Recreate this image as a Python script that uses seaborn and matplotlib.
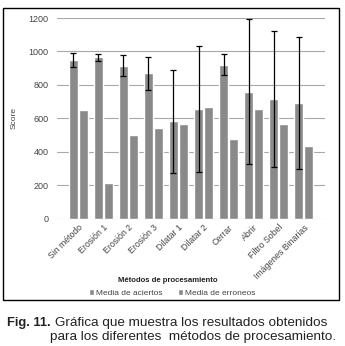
import numpy as np
import pandas as pd
import matplotlib
matplotlib.use("Agg")
import matplotlib.pyplot as plt
from matplotlib.patches import Rectangle
import seaborn as sns

# datos
metodos = ["Sin método", "Erosión 1", "Erosión 2", "Erosión 3", "Dilatar 1",
           "Dilatar 2", "Cerrar", "Abrir", "Filtro Sobel", "Imágenes Binarias"]
media_aciertos = [950, 965, 915, 870, 582, 655, 920, 760, 715, 690]
media_erroneos = [650, 215, 500, 540, 565, 665, 475, 655, 565, 435]
desv_aciertos = [40, 20, 62, 98, 310, 375, 62, 435, 405, 395]
series = ["Media de aciertos", "Media de erroneos"]

df = pd.DataFrame({
    "metodo": metodos * 2,
    "valor": media_aciertos + media_erroneos,
    "serie": [series[0]] * len(metodos) + [series[1]] * len(metodos),
})

sns.set_style("white")
plt.rcParams["font.family"] = ["Liberation Sans", "DejaVu Sans"]

fig = plt.figure(figsize=(3.45, 3.46), dpi=100)
ax = fig.add_axes([57 / 345, 1 - 218.7 / 346, (325 - 57) / 345, (218.7 - 18) / 346])

gris = "#8a8a8a"
sns.barplot(data=df, x="metodo", y="valor", hue="serie", palette=[gris, gris],
            width=0.8, gap=0.15, saturation=1, ax=ax, legend=True)

# barras de error sobre la media de aciertos
cont = ax.containers[0]
xs = [p.get_x() + p.get_width() / 2 for p in cont]
ax.errorbar(xs, media_aciertos, yerr=desv_aciertos, fmt="none", ecolor="black",
            elinewidth=0.9, capsize=2.5, capthick=0.9)

ax.set_ylim(0, 1200)
ax.set_yticks(range(0, 1201, 200))
ax.yaxis.grid(True, color="#a8a8a8", linewidth=0.8)
ax.set_axisbelow(True)
for s in ax.spines.values():
    s.set_visible(False)
ax.tick_params(axis="y", length=0, colors="#444444", labelsize=6.5, pad=6)
ax.tick_params(axis="x", length=0, colors="#444444", labelsize=6.3, pad=3)
plt.setp(ax.get_xticklabels(), rotation=45, ha="right", rotation_mode="anchor")
ax.set_xlabel("")
ax.set_ylabel("Score", fontsize=6, color="#444444", labelpad=8)

fig.text(168 / 345, 1 - 280 / 346, "Métodos de procesamiento", fontsize=5.6,
         fontweight="bold", color="#222222", ha="center", va="center")

ax.get_legend().remove()
handles, labels = ax.get_legend_handles_labels()
leg = fig.legend(handles, labels, loc="center", bbox_to_anchor=(172 / 345, 1 - 293 / 346),
                 ncol=2, frameon=False, fontsize=6, handlelength=0.6, handleheight=0.6,
                 columnspacing=1.8, handletextpad=0.3)
for t in leg.get_texts():
    t.set_color("#444444")

# marco del grafico
fig.patches.append(Rectangle((3 / 345, 1 - 300 / 346), 336 / 345, 292 / 346,
                             transform=fig.transFigure, fill=False,
                             edgecolor="black", linewidth=1.0))

# pie de figura
fig.text(7 / 345, 1 - 323 / 346, "Fig. 11.", fontsize=9.3, fontweight="bold",
         va="center", ha="left", color="#222222")
fig.text(55 / 345, 1 - 323 / 346, "Gráfica que muestra los resultados obtenidos",
         fontsize=9.7, va="center", ha="left", color="#222222")
fig.text(50 / 345, 1 - 337 / 346, "para los diferentes  métodos de procesamiento.",
         fontsize=9.7, va="center", ha="left", color="#222222")

fig.savefig("out.png", dpi=100)
